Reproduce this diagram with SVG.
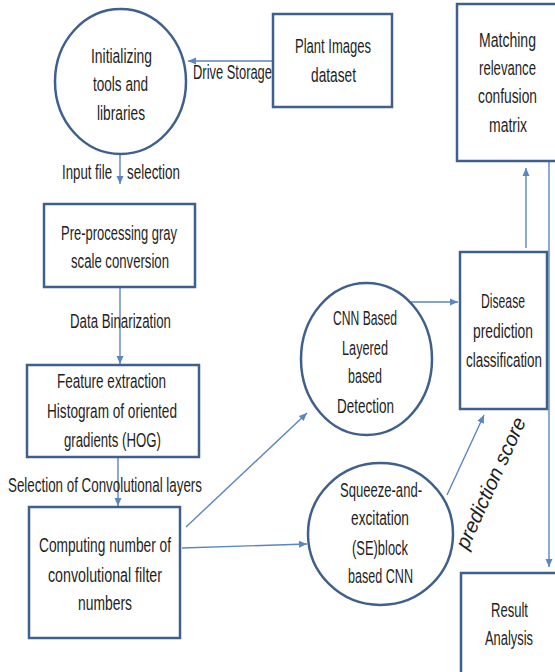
<svg xmlns="http://www.w3.org/2000/svg" width="555" height="672" viewBox="0 0 555 672">
<style>
.node{fill:#ffffff;stroke:#3f5f8c;stroke-width:2.5}
.t{font-family:"Liberation Sans",Arial,sans-serif;font-size:20.5px;fill:#1e1e1e;text-anchor:middle}
.c{fill:none;stroke:#5b86bf;stroke-width:1.4}
</style>
<defs>
<marker id="ah" markerUnits="userSpaceOnUse" markerWidth="10" markerHeight="10" viewBox="0 0 10 10" refX="9" refY="5" orient="auto">
<path d="M1,1.5 L9,5 L1,8.5 Z" fill="#5b86bf"/>
</marker>
</defs>
<rect width="555" height="672" fill="#ffffff"/>
<g id="connectors">
<line class="c" x1="273" y1="61" x2="188" y2="61" marker-end="url(#ah)"/>
<line class="c" x1="120" y1="154" x2="120" y2="184" marker-end="url(#ah)"/>
<line class="c" x1="120" y1="287" x2="120" y2="364" marker-end="url(#ah)"/>
<line class="c" x1="118" y1="457" x2="118" y2="506" marker-end="url(#ah)"/>
<line class="c" x1="186" y1="527" x2="307" y2="413" marker-end="url(#ah)"/>
<line class="c" x1="182" y1="548" x2="307" y2="544" marker-end="url(#ah)"/>
<line class="c" x1="405" y1="302" x2="458" y2="302" marker-end="url(#ah)"/>
<line class="c" x1="447" y1="495" x2="484" y2="415" marker-end="url(#ah)"/>
<line class="c" x1="526" y1="248" x2="526" y2="168" marker-end="url(#ah)"/>
<line class="c" x1="549" y1="161" x2="549" y2="567" marker-end="url(#ah)"/>
<text class="t" x="232.5" y="79" textLength="79" lengthAdjust="spacingAndGlyphs">Drive Storage</text>
<text class="t" x="87" y="179" textLength="50" lengthAdjust="spacingAndGlyphs">Input file</text>
<text class="t" x="153.5" y="179" textLength="53" lengthAdjust="spacingAndGlyphs">selection</text>
<text class="t" x="120.5" y="328" textLength="101" lengthAdjust="spacingAndGlyphs">Data Binarization</text>
<text class="t" x="105" y="492" textLength="194" lengthAdjust="spacingAndGlyphs">Selection of Convolutional layers</text>
<text class="t" x="0" y="0" font-style="italic" textLength="142" lengthAdjust="spacingAndGlyphs" transform="translate(497,486) rotate(-65.5)">prediction score</text>
</g>
<g id="n-init">
<ellipse class="node" cx="120.5" cy="81.5" rx="65.5" ry="72.5"/>
<text class="t" x="121.5" y="63" textLength="61" lengthAdjust="spacingAndGlyphs">Initializing</text>
<text class="t" x="120.5" y="91" textLength="55" lengthAdjust="spacingAndGlyphs">tools and</text>
<text class="t" x="121" y="120" textLength="48" lengthAdjust="spacingAndGlyphs">libraries</text>
</g>
<g id="n-plant">
<rect class="node" x="273" y="14" width="119" height="93"/>
<text class="t" x="333" y="53" textLength="76" lengthAdjust="spacingAndGlyphs">Plant Images</text>
<text class="t" x="333.5" y="82" textLength="45" lengthAdjust="spacingAndGlyphs">dataset</text>
</g>
<g id="n-match">
<rect class="node" x="457" y="4" width="105" height="157"/>
<text class="t" x="507.5" y="47" textLength="57" lengthAdjust="spacingAndGlyphs">Matching</text>
<text class="t" x="507.5" y="75" textLength="57" lengthAdjust="spacingAndGlyphs">relevance</text>
<text class="t" x="507.5" y="103" textLength="59" lengthAdjust="spacingAndGlyphs">confusion</text>
<text class="t" x="508" y="132" textLength="38" lengthAdjust="spacingAndGlyphs">matrix</text>
</g>
<g id="n-pre">
<rect class="node" x="44" y="204" width="151" height="83"/>
<text class="t" x="119" y="240" textLength="116" lengthAdjust="spacingAndGlyphs">Pre-processing gray</text>
<text class="t" x="120" y="268" textLength="98" lengthAdjust="spacingAndGlyphs">scale conversion</text>
</g>
<g id="n-feat">
<rect class="node" x="27" y="365" width="172" height="92"/>
<text class="t" x="111.5" y="388" textLength="109" lengthAdjust="spacingAndGlyphs">Feature extraction</text>
<text class="t" x="112" y="418" textLength="130" lengthAdjust="spacingAndGlyphs">Histogram of oriented</text>
<text class="t" x="112.5" y="447" textLength="97" lengthAdjust="spacingAndGlyphs">gradients (HOG)</text>
</g>
<g id="n-comp">
<rect class="node" x="29" y="507" width="151" height="131"/>
<text class="t" x="105" y="552" textLength="132" lengthAdjust="spacingAndGlyphs">Computing number of</text>
<text class="t" x="105" y="582" textLength="114" lengthAdjust="spacingAndGlyphs">convolutional filter</text>
<text class="t" x="105" y="610" textLength="54" lengthAdjust="spacingAndGlyphs">numbers</text>
</g>
<g id="n-cnn">
<ellipse class="node" cx="366.5" cy="359" rx="65.5" ry="76"/>
<text class="t" x="365" y="325" textLength="64" lengthAdjust="spacingAndGlyphs">CNN Based</text>
<text class="t" x="365" y="355" textLength="46" lengthAdjust="spacingAndGlyphs">Layered</text>
<text class="t" x="365" y="383" textLength="34" lengthAdjust="spacingAndGlyphs">based</text>
<text class="t" x="365.5" y="413" textLength="57" lengthAdjust="spacingAndGlyphs">Detection</text>
</g>
<g id="n-se">
<ellipse class="node" cx="380.5" cy="534" rx="72.5" ry="71"/>
<text class="t" x="381" y="497" textLength="82" lengthAdjust="spacingAndGlyphs">Squeeze-and-</text>
<text class="t" x="380" y="525" textLength="58" lengthAdjust="spacingAndGlyphs">excitation</text>
<text class="t" x="380" y="555" textLength="56" lengthAdjust="spacingAndGlyphs">(SE)block</text>
<text class="t" x="380.5" y="583" textLength="65" lengthAdjust="spacingAndGlyphs">based CNN</text>
</g>
<g id="n-disease">
<rect class="node" x="460" y="252" width="87" height="157"/>
<text class="t" x="503" y="308" textLength="44" lengthAdjust="spacingAndGlyphs">Disease</text>
<text class="t" x="503" y="338" textLength="60" lengthAdjust="spacingAndGlyphs">prediction</text>
<text class="t" x="504" y="367" textLength="76" lengthAdjust="spacingAndGlyphs">classification</text>
</g>
<g id="n-result">
<rect class="node" x="461" y="573" width="101" height="110"/>
<text class="t" x="509.5" y="617" textLength="37" lengthAdjust="spacingAndGlyphs">Result</text>
<text class="t" x="509" y="645" textLength="48" lengthAdjust="spacingAndGlyphs">Analysis</text>
</g>
</svg>
